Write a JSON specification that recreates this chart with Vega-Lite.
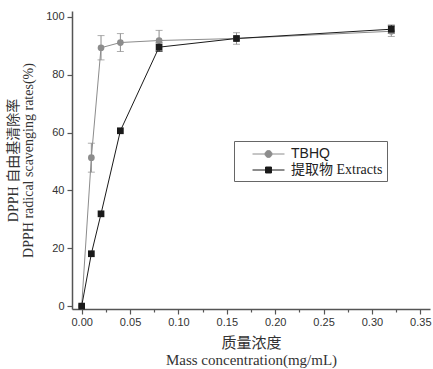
{
  "$schema": "https://vega.github.io/schema/vega-lite/v6.json",
  "width": 358,
  "height": 298,
  "autosize": {"type": "none"},
  "padding": {"left": 72, "top": 11, "right": 3, "bottom": 60},
  "background": "white",
  "config": {
    "view": {"stroke": null},
    "axis": {
      "grid": false,
      "domainColor": "#555",
      "domainWidth": 1.5,
      "tickColor": "#555",
      "tickWidth": 1.2,
      "labelFont": "Liberation Sans",
      "labelFontSize": 11,
      "labelColor": "#333",
      "titleFont": "Liberation Serif, Noto Sans CJK SC",
      "titleFontSize": 14,
      "titleFontWeight": "normal",
      "titleColor": "#333",
      "labelOverlap": false,
      "labelFlush": false
    }
  },
  "data": {
    "values": [
      {"series": "TBHQ", "x": 0, "y": 0, "lo": null, "hi": null},
      {"series": "TBHQ", "x": 0.01, "y": 51.3, "lo": 46.3, "hi": 56.3},
      {"series": "TBHQ", "x": 0.02, "y": 89.3, "lo": 85.1, "hi": 93.5},
      {"series": "TBHQ", "x": 0.04, "y": 91.1, "lo": 88.0, "hi": 94.2},
      {"series": "TBHQ", "x": 0.08, "y": 91.8, "lo": 88.3, "hi": 95.3},
      {"series": "TBHQ", "x": 0.16, "y": 92.5, "lo": 90.5, "hi": 94.5},
      {"series": "TBHQ", "x": 0.32, "y": 95.0, "lo": 93.2, "hi": 96.8},
      {"series": "提取物 Extracts", "x": 0, "y": 0, "lo": null, "hi": null},
      {"series": "提取物 Extracts", "x": 0.01, "y": 18.1, "lo": null, "hi": null},
      {"series": "提取物 Extracts", "x": 0.02, "y": 31.9, "lo": null, "hi": null},
      {"series": "提取物 Extracts", "x": 0.04, "y": 60.6, "lo": null, "hi": null},
      {"series": "提取物 Extracts", "x": 0.08, "y": 89.5, "lo": 88.0, "hi": 91.0},
      {"series": "提取物 Extracts", "x": 0.16, "y": 92.5, "lo": null, "hi": null},
      {"series": "提取物 Extracts", "x": 0.32, "y": 95.7, "lo": 94.3, "hi": 97.1}
    ]
  },
  "encoding": {
    "x": {
      "field": "x",
      "type": "quantitative",
      "scale": {"domain": [-0.01, 0.36], "nice": false, "zero": false},
      "axis": {
        "values": [0, 0.025, 0.05, 0.075, 0.1, 0.125, 0.15, 0.175, 0.2, 0.225, 0.25, 0.275, 0.3, 0.325, 0.35],
        "labelExpr": "abs(datum.value*20-round(datum.value*20))<1e-6 ? format(datum.value,'.2f') : ''",
        "tickSize": {"condition": {"test": "abs(datum.value*20-round(datum.value*20))<1e-6", "value": 5}, "value": 3},
        "labelPadding": 2,
        "title": ["质量浓度", "Mass concentration(mg/mL)"],
        "titleFontSize": 15,
        "titleLineHeight": 17,
        "titlePadding": 8
      }
    }
  },
  "layer": [
    {
      "mark": {"type": "line", "strokeWidth": 1},
      "encoding": {
        "y": {
          "field": "y",
          "type": "quantitative",
          "scale": {"domain": [-1, 102], "nice": false, "zero": false},
          "axis": {
            "values": [0, 10, 20, 30, 40, 50, 60, 70, 80, 90, 100],
            "labelExpr": "datum.value % 20 == 0 ? datum.label : ''",
            "tickSize": {"condition": {"test": "datum.value % 20 == 0", "value": 5}, "value": 3},
            "labelPadding": 3,
            "title": ["DPPH 自由基清除率", "DPPH radical scavenging rates(%)"],
            "titleLineHeight": 15,
            "titlePadding": 10
          }
        },
        "color": {
          "field": "series",
          "type": "nominal",
          "scale": {"domain": ["TBHQ", "提取物 Extracts"], "range": ["#8c8c8c", "#1a1a1a"]},
          "legend": {
            "orient": "none",
            "legendX": 162,
            "legendY": 130,
            "title": null,
            "strokeColor": "#666",
            "padding": 4,
            "rowPadding": 0,
            "labelFontSize": 14,
            "labelColor": "#222",
            "labelOffset": 35,
            "symbolSize": 289,
            "encode": {
              "symbols": {
                "update": {
                  "shape": {"signal": "datum.value === 'TBHQ' ? 'M0.65,0H4.41M2.12,0A0.41,0.41 0 1,0 2.94,0A0.41,0.41 0 1,0 2.12,0Z' : 'M0.65,0H4.41M2.18,-0.35H2.88V0.35H2.18Z'"},
                  "fill": {"signal": "datum.value === 'TBHQ' ? '#8c8c8c' : '#1a1a1a'"},
                  "strokeWidth": {"value": 1}
                }
              },
              "labels": {
                "update": {
                  "font": {"signal": "datum.value === 'TBHQ' ? 'Liberation Sans' : 'Liberation Serif, Noto Sans CJK SC'"}
                }
              }
            }
          }
        }
      }
    },
    {
      "transform": [{"filter": "datum.lo != null"}],
      "mark": {"type": "errorbar", "ticks": {"size": 7}, "thickness": 1},
      "encoding": {
        "y": {"field": "lo", "type": "quantitative", "title": ["DPPH 自由基清除率", "DPPH radical scavenging rates(%)"]},
        "y2": {"field": "hi"},
        "color": {"field": "series", "type": "nominal", "legend": null}
      }
    },
    {
      "mark": {"type": "point", "filled": true, "opacity": 1, "size": 45},
      "encoding": {
        "y": {"field": "y", "type": "quantitative", "title": ["DPPH 自由基清除率", "DPPH radical scavenging rates(%)"]},
        "shape": {"condition": {"test": "datum.series === 'TBHQ'", "value": "circle"}, "value": "square"},
        "color": {"field": "series", "type": "nominal", "legend": null}
      }
    }
  ]
}
